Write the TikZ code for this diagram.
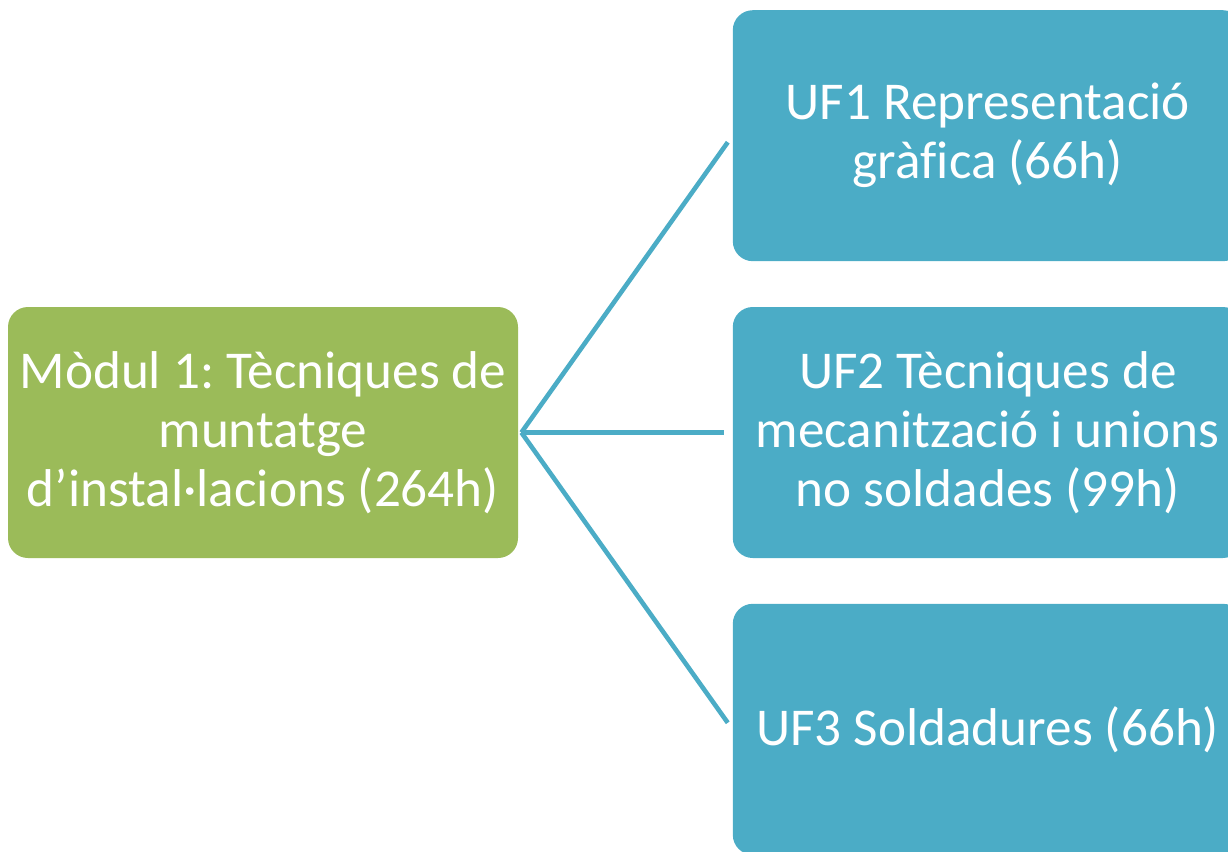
\documentclass[tikz,border=0pt]{standalone}
\usepackage{fontspec}
\setmainfont[Ligatures=CommonOff]{Carlito}
\usepackage{xcolor}
\usetikzlibrary{positioning}
\definecolor{modulgreen}{HTML}{9BBB59}
\definecolor{ufblue}{HTML}{4BACC6}
\frenchspacing
\tikzset{
	box/.style={rectangle,rounded corners=10pt,minimum width=255pt,minimum height=125.5pt,
		text=white,align=center,inner sep=0pt,font=\fontsize{26.6pt}{29.5pt}\selectfont},
	modul/.style={box,fill=modulgreen},
	uf/.style={box,fill=ufblue},
	branch/.style={draw=ufblue,line width=2.3pt,shorten >=4pt}
}
\begin{document}
\begin{tikzpicture}
			\useasboundingbox (0,0) rectangle (614pt,-426pt);
			\node[modul] at (131.5pt,-216.25pt) (m1) {Mòdul 1: Tècniques de\\muntatge\\d’instal·lacions (264h)};
			\node[uf,right=107pt of m1] (uf2) {UF2 Tècniques de\\mecanització i unions\\no soldades (99h)};
			\node[uf,above=22.5pt of uf2] (uf1) {UF1 Representació\\gràfica (66h)};
			\node[uf,below=22.5pt of uf2] (uf3) {UF3 Soldadures (66h)};
			%
			\draw[branch] ([xshift=1.5pt]m1.east) -- (uf1.west);
			\draw[branch] ([xshift=1.5pt]m1.east) -- (uf2.west);
			\draw[branch] ([xshift=1.5pt]m1.east) -- (uf3.west);
\end{tikzpicture}
\end{document}
